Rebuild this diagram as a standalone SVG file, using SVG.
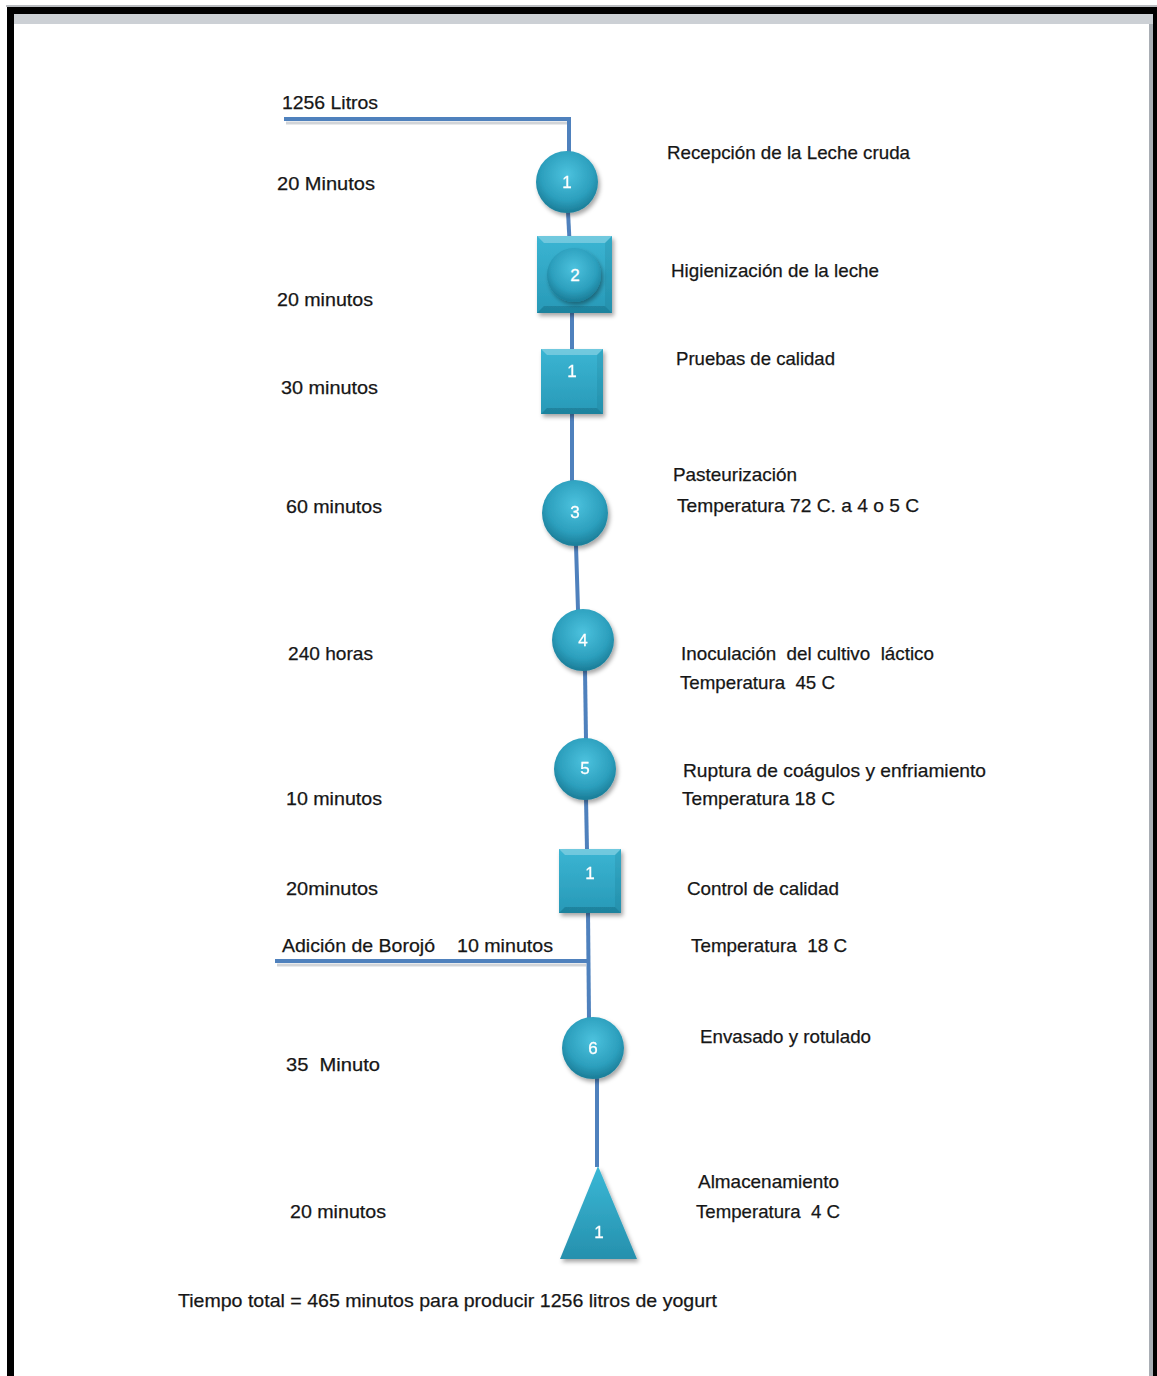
<svg xmlns="http://www.w3.org/2000/svg" width="1157" height="1376" viewBox="0 0 1157 1376">
<defs>
<radialGradient id="gc" cx="50%" cy="38%" r="60%">
<stop offset="0" stop-color="#4cc2de"/>
<stop offset="0.7" stop-color="#2c9fbd"/>
<stop offset="1" stop-color="#1c7f9a"/>
</radialGradient>
<linearGradient id="gs" x1="0" y1="0" x2="0" y2="1">
<stop offset="0" stop-color="#3bb5d3"/>
<stop offset="1" stop-color="#2899b7"/>
</linearGradient>
<linearGradient id="gt" x1="0" y1="0" x2="0" y2="1">
<stop offset="0" stop-color="#3ab8d6"/>
<stop offset="1" stop-color="#2690ad"/>
</linearGradient>
<filter id="sh" x="-20%" y="-20%" width="150%" height="150%">
<feDropShadow dx="2" dy="3" stdDeviation="2" flood-color="#000" flood-opacity="0.35"/>
</filter>
</defs>
<style>
text{font-family:"Liberation Sans","Open Sans",Arial,sans-serif;font-size:19px;fill:#161616;stroke:#161616;stroke-width:0.25}
.num{fill:#ffffff;stroke:#ffffff;stroke-width:0.3;font-size:17px;text-anchor:middle}
.ln{stroke:#4f81bd;stroke-width:4;fill:none}
.lsh{stroke:#9aa0a8;stroke-width:3;opacity:0.45;fill:none}
.bt{fill:#ffffff;opacity:0.28}
.bb{fill:#0a4f63;opacity:0.3}
.bs{fill:#0a4f63;opacity:0.12}
</style>
<rect x="0" y="0" width="1157" height="1376" fill="#ffffff"/>
<g id="frame">
<rect x="6" y="5" width="1151" height="2" fill="#b9bcc0"/>
<rect x="7" y="7" width="1150" height="7" fill="#000"/>
<rect x="7" y="7" width="7" height="1369" fill="#000"/>
<rect x="1153" y="7" width="4" height="1369" fill="#000"/>
<rect x="14" y="14" width="1139" height="10" fill="#ccd0d5"/>
<rect x="1149" y="24" width="4" height="1352" fill="#a9aeb4"/>
</g>
<g id="connectors">
<line class="lsh" x1="286" y1="123" x2="567" y2="123"/>
<line class="lsh" x1="277" y1="965" x2="586" y2="965"/>
<polyline class="ln" points="284,119 569,119 569,152"/>
<line class="ln" x1="568" y1="212" x2="570" y2="250"/>
<line class="ln" x1="572" y1="300" x2="572" y2="350"/>
<line class="ln" x1="572" y1="414" x2="572" y2="482"/>
<line class="ln" x1="576" y1="545" x2="578" y2="610"/>
<line class="ln" x1="585" y1="670" x2="586" y2="740"/>
<line class="ln" x1="586" y1="798" x2="587" y2="850"/>
<line class="ln" x1="275" y1="961" x2="589" y2="961"/>
<line class="ln" x1="588" y1="912" x2="589" y2="1018"/>
<line class="ln" x1="597" y1="1078" x2="597" y2="1167"/>
</g>
<g id="n1" filter="url(#sh)">
<circle cx="567" cy="182" r="31" fill="url(#gc)"/>
<text class="num" x="567" y="188">1</text>
</g>
<g id="n2">
<g filter="url(#sh)">
<rect x="537" y="236" width="75" height="77" fill="url(#gs)"/>
<polygon class="bt" points="537,236 612,236 605,243 544,243"/>
<polygon class="bb" points="537,313 612,313 605,306 544,306"/>
<polygon class="bs" points="612,236 612,313 605,306 605,243"/>
</g>
<circle cx="574" cy="275" r="27" fill="url(#gc)" filter="url(#sh)"/>
<text class="num" x="575" y="281">2</text>
</g>
<g id="n3" filter="url(#sh)">
<rect x="541" y="349" width="62" height="65" fill="url(#gs)"/>
<polygon class="bt" points="541,349 603,349 597,355 547,355"/>
<polygon class="bb" points="541,414 603,414 597,408 547,408"/>
<polygon class="bs" points="603,349 603,414 597,408 597,355"/>
<text class="num" x="572" y="377">1</text>
</g>
<g id="n4" filter="url(#sh)">
<circle cx="575" cy="513" r="33" fill="url(#gc)"/>
<text class="num" x="575" y="518">3</text>
</g>
<g id="n5" filter="url(#sh)">
<circle cx="583" cy="640" r="31" fill="url(#gc)"/>
<text class="num" x="583" y="646">4</text>
</g>
<g id="n6" filter="url(#sh)">
<circle cx="585" cy="769" r="31" fill="url(#gc)"/>
<text class="num" x="585" y="774">5</text>
</g>
<g id="n7" filter="url(#sh)">
<rect x="559" y="849" width="62" height="64" fill="url(#gs)"/>
<polygon class="bt" points="559,849 621,849 615,855 565,855"/>
<polygon class="bb" points="559,913 621,913 615,907 565,907"/>
<polygon class="bs" points="621,849 621,913 615,907 615,855"/>
<text class="num" x="590" y="879">1</text>
</g>
<g id="n8" filter="url(#sh)">
<circle cx="593" cy="1048" r="31" fill="url(#gc)"/>
<text class="num" x="593" y="1054">6</text>
</g>
<g id="n9" filter="url(#sh)">
<polygon points="598,1166 637,1259 560,1259" fill="url(#gt)"/>
<text class="num" x="599" y="1238">1</text>
</g>
<g id="left-labels">
<text x="282" y="109" textLength="96" lengthAdjust="spacingAndGlyphs">1256 Litros</text>
<text x="277" y="190" textLength="98" lengthAdjust="spacingAndGlyphs">20 Minutos</text>
<text x="277" y="306" textLength="96" lengthAdjust="spacingAndGlyphs">20 minutos</text>
<text x="281" y="394" textLength="97" lengthAdjust="spacingAndGlyphs">30 minutos</text>
<text x="286" y="513" textLength="96" lengthAdjust="spacingAndGlyphs">60 minutos</text>
<text x="288" y="660" textLength="85" lengthAdjust="spacingAndGlyphs">240 horas</text>
<text x="286" y="805" textLength="96" lengthAdjust="spacingAndGlyphs">10 minutos</text>
<text x="286" y="895" textLength="92" lengthAdjust="spacingAndGlyphs">20minutos</text>
<text x="282" y="952" textLength="153" lengthAdjust="spacingAndGlyphs">Adición de Borojó</text>
<text x="457" y="952" textLength="96" lengthAdjust="spacingAndGlyphs">10 minutos</text>
<text x="286" y="1071" textLength="94" lengthAdjust="spacingAndGlyphs" xml:space="preserve">35  Minuto</text>
<text x="290" y="1218" textLength="96" lengthAdjust="spacingAndGlyphs">20 minutos</text>
<text x="178" y="1307" textLength="539" lengthAdjust="spacingAndGlyphs">Tiempo total = 465 minutos para producir 1256 litros de yogurt</text>
</g>
<g id="right-labels">
<text x="667" y="159" textLength="243" lengthAdjust="spacingAndGlyphs">Recepción de la Leche cruda</text>
<text x="671" y="277" textLength="208" lengthAdjust="spacingAndGlyphs">Higienización de la leche</text>
<text x="676" y="365" textLength="159" lengthAdjust="spacingAndGlyphs">Pruebas de calidad</text>
<text x="673" y="481" textLength="124" lengthAdjust="spacingAndGlyphs">Pasteurización</text>
<text x="677" y="512" textLength="242" lengthAdjust="spacingAndGlyphs">Temperatura 72 C. a 4 o 5 C</text>
<text x="681" y="660" textLength="253" lengthAdjust="spacingAndGlyphs" xml:space="preserve">Inoculación  del cultivo  láctico</text>
<text x="680" y="689" textLength="155" lengthAdjust="spacingAndGlyphs" xml:space="preserve">Temperatura  45 C</text>
<text x="683" y="777" textLength="303" lengthAdjust="spacingAndGlyphs">Ruptura de coágulos y enfriamiento</text>
<text x="682" y="805" textLength="153" lengthAdjust="spacingAndGlyphs">Temperatura 18 C</text>
<text x="687" y="895" textLength="152" lengthAdjust="spacingAndGlyphs">Control de calidad</text>
<text x="691" y="952" textLength="156" lengthAdjust="spacingAndGlyphs" xml:space="preserve">Temperatura  18 C</text>
<text x="700" y="1043" textLength="171" lengthAdjust="spacingAndGlyphs">Envasado y rotulado</text>
<text x="698" y="1188" textLength="141" lengthAdjust="spacingAndGlyphs">Almacenamiento</text>
<text x="696" y="1218" textLength="144" lengthAdjust="spacingAndGlyphs" xml:space="preserve">Temperatura  4 C</text>
</g>
</svg>
